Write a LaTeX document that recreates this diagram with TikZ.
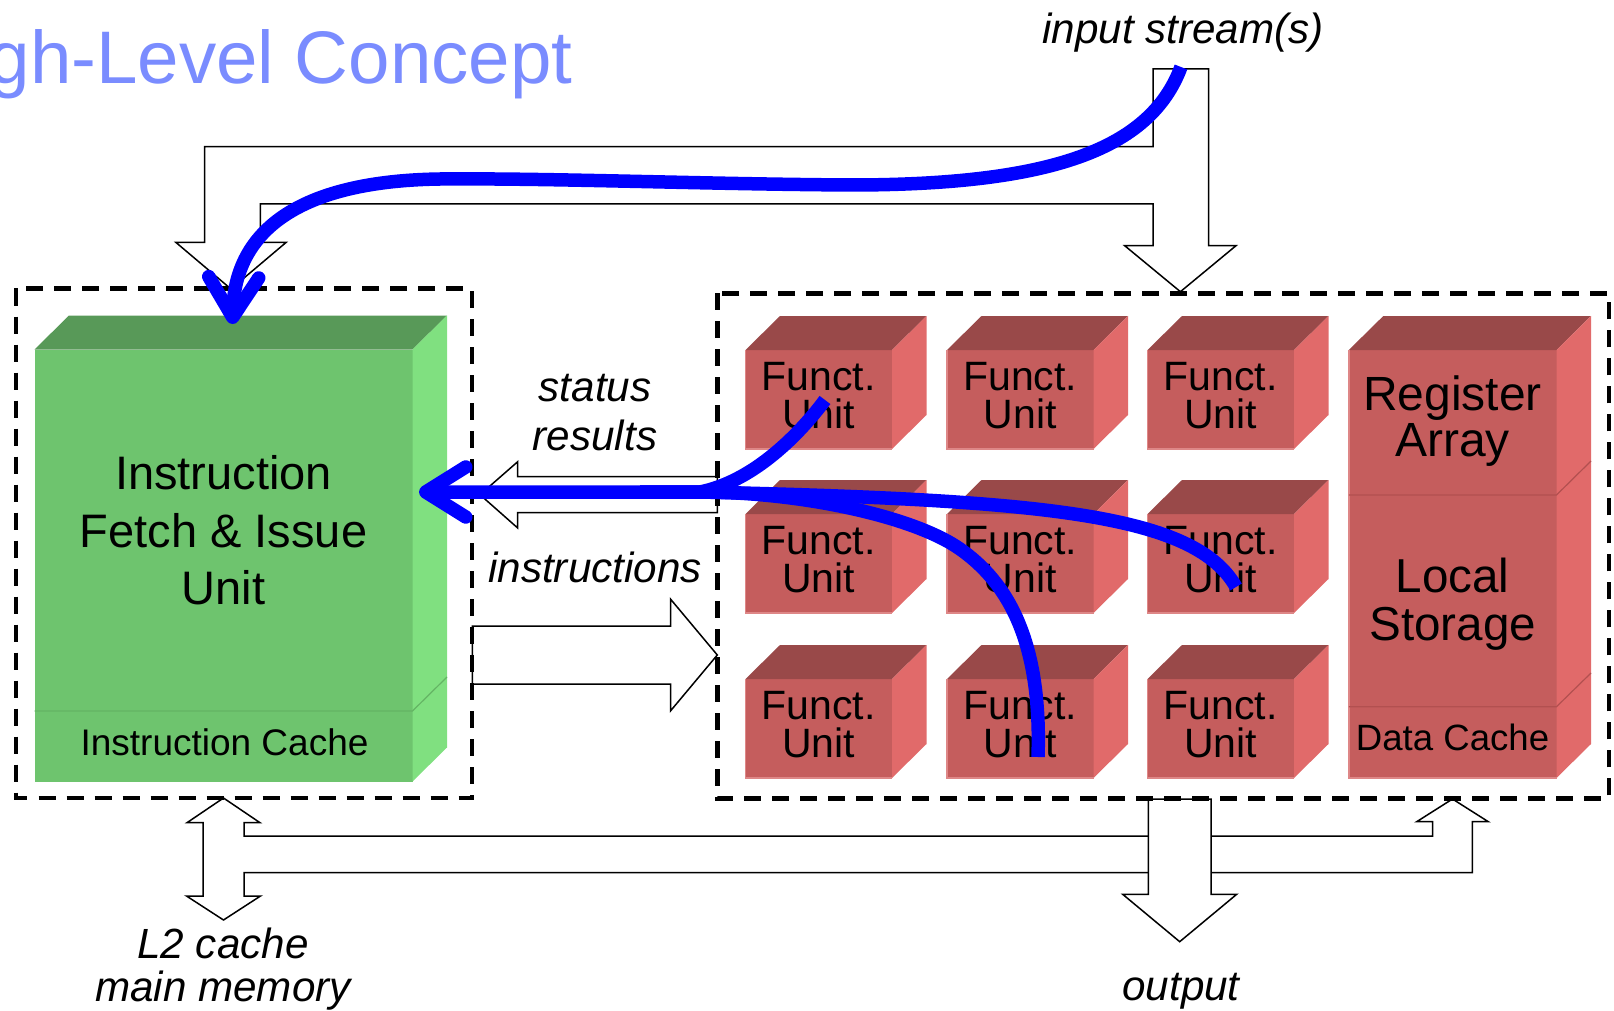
\documentclass[tikz,border=0pt]{standalone}
\usepackage{fontspec}
\setmainfont{Liberation Sans}
\usetikzlibrary{arrows.meta,calc}

\definecolor{titleblue}{RGB}{122,140,255}
\definecolor{gfront}{RGB}{110,196,110}
\definecolor{gtopc}{RGB}{88,153,88}
\definecolor{gsidec}{RGB}{128,224,128}
\definecolor{glinec}{RGB}{100,180,100}
\definecolor{rfront}{RGB}{197,93,93}
\definecolor{rtopc}{RGB}{153,73,73}
\definecolor{rsidec}{RGB}{225,106,106}
\definecolor{rlinec}{RGB}{178,80,80}
\definecolor{redgec}{RGB}{222,135,135}
\definecolor{flow}{RGB}{0,0,255}

\newcommand\fsz[2]{\fontsize{#1}{#2}\selectfont}

% one functional unit: front face node, top and side faces, caption
\newcommand\fucube[3]{%
  \node[fuface] (#1) at (#2,#3) {};
  \fill[rtop] (#1.north west) -- ++(34.5,-34) -- ++(146.5,0) -- (#1.north east) -- cycle;
  \fill[rside] (#1.north east) -- ++(34.5,-34) -- ++(0,99) -- (#1.south east) -- cycle;
  \draw[redge] (#1.north west) -- (#1.south west) -- (#1.south east);
  \node[futext] (#1t) at ($(#1.center)+(0,-3.7)$) {Funct.\\Unit};
}

\begin{document}
\begin{tikzpicture}[x=0.5pt,y=-0.5pt,
  dashbox/.style={draw=black, line width=2.25pt, dash pattern=on 8.5pt off 5.5pt},
  blockarrow/.style={draw=black, fill=white, line width=0.75pt, line join=miter},
  gface/.style={fill=gfront, anchor=north west, inner sep=0pt, outer sep=0pt,
                minimum width=189pt, minimum height=216pt},
  gtop/.style={fill=gtopc},
  gside/.style={fill=gsidec},
  gsep/.style={draw=glinec, line width=0.6pt},
  rface/.style={fill=rfront, anchor=north west, inner sep=0pt, outer sep=0pt},
  fuface/.style={rface, minimum width=73.25pt, minimum height=49.5pt},
  rtop/.style={fill=rtopc},
  rside/.style={fill=rsidec},
  rsep/.style={draw=rlinec, line width=0.6pt},
  redge/.style={draw=redgec, line width=0.75pt},
  futext/.style={align=center, inner sep=0pt, font=\fsz{20.5}{18.85}},
  bigtext/.style={align=center, inner sep=0pt},
  lbl/.style={inner sep=0pt, anchor=base, font=\itshape\fsz{21.1}{24}},
  flowline/.style={draw=flow, line width=6.75pt},
  flowarrow/.style={flowline, -{Straight Barb[length=20pt, width=25pt, round]}},
]
\useasboundingbox (0,0) rectangle (1614,1011);
\clip (0,0) rectangle (1614,1011);

% title
\node[anchor=base east, inner sep=0pt, text=titleblue, font=\fsz{37.25}{44}]
  (title) at (573,83.3) {gh-Level Concept};

% input stream split into two block arrows
\draw[blockarrow] (1153,69) -- (1208.7,69) -- (1208.7,245.7) -- (1236,245.7)
  -- (1180.4,291.7) -- (1124.7,245.7) -- (1153,245.7) -- (1153,204)
  -- (260.3,204) -- (260.3,242.5) -- (286,242.5) -- (231,289) -- (176,242.5)
  -- (204.5,242.5) -- (204.5,146.7) -- (1153,146.7) -- cycle;

% status / results back to the issue unit
\draw[blockarrow] (717.3,476.7) -- (517.7,476.7) -- (517.7,461.7) -- (480,494.7)
  -- (517.7,528) -- (517.7,512.7) -- (717.3,512.7) -- cycle;

% instructions to the functional units
\draw[blockarrow] (472.3,626) -- (670.7,626) -- (670.7,599.3) -- (717.3,655)
  -- (670.7,710.7) -- (670.7,684) -- (472.3,684) -- cycle;

% memory bus
\draw[blockarrow] (223.5,798) -- (260,822.7) -- (244,822.7) -- (244,836)
  -- (1432.7,836) -- (1432.7,821.7) -- (1416.7,821.7) -- (1452.5,799)
  -- (1488.3,821.7) -- (1472.3,821.7) -- (1472.3,872.5) -- (244,872.5)
  -- (244,896) -- (260.5,896) -- (223.5,920) -- (186.5,896) -- (203,896)
  -- (203,822.7) -- (187,822.7) -- cycle;

% output
\draw[blockarrow] (1148.3,799) -- (1211,799) -- (1211,894.3) -- (1236.7,894.3)
  -- (1179.7,941.7) -- (1122.7,894.3) -- (1148.3,894.3) -- cycle;

% enclosures
\draw[dashbox] (16,288.5) rectangle (472,798);
\draw[dashbox] (717.3,293.3) rectangle (1609,798.5);

% instruction fetch & issue unit
\node[gface] (ifu) at (34.5,349.5) {};
\fill[gtop] (ifu.north west) -- ++(34.5,-34) -- ++(378,0) -- (ifu.north east) -- cycle;
\fill[gside] (ifu.north east) -- ++(34.5,-34) -- ++(0,432) -- (ifu.south east) -- cycle;
\draw[gsep] (34.5,711) -- (412.5,711) -- (447,677);
\node[bigtext, font=\fsz{23.5}{28.75}] (ifutxt) at (223.5,530.6)
  {Instruction\\Fetch \& Issue\\Unit};
\node[inner sep=0pt, anchor=base, font=\fsz{18.5}{22}] (icache) at (224.5,755)
  {Instruction Cache};

% functional units
\fucube{fa}{745.5}{350}
\fucube{fb}{947}{350}
\fucube{fc}{1147.5}{350}
\fucube{fd}{745.5}{514}
\fucube{fe}{947}{514}
\fucube{ff}{1147.5}{514}
\fucube{fg}{745.5}{679}
\fucube{fh}{947}{679}
\fucube{fi}{1147.5}{679}

% register array / local storage / data cache
\node[rface, minimum width=103.85pt, minimum height=214pt] (rls) at (1348.8,350) {};
\fill[rtop] (rls.north west) -- ++(34.5,-34) -- ++(207.7,0) -- (rls.north east) -- cycle;
\fill[rside] (rls.north east) -- ++(34.5,-34) -- ++(0,428) -- (rls.south east) -- cycle;
\draw[redge] (rls.north west) -- (rls.south west) -- (rls.south east);
\draw[rsep] (1348.8,495) -- (1556.5,495) -- (1591,461);
\draw[rsep] (1348.8,706.7) -- (1556.5,706.7) -- (1591,673);
\node[bigtext, font=\fsz{24}{23.35}] (regtxt) at (1452.6,421.2) {Register\\Array};
\node[bigtext, font=\fsz{23.8}{24.15}] (loctxt) at (1452.6,603.9) {Local\\Storage};
\node[inner sep=0pt, anchor=base, font=\fsz{18.3}{22}] (dcache) at (1452.6,750) {Data Cache};

% labels
\node[lbl] (instream) at (1183,43.3) {input stream(s)};
\node[lbl] (status) at (595,401.7) {status};
\node[lbl] (results) at (595,450) {results};
\node[lbl] (instrs) at (595,582.5) {instructions};
\node[lbl] (ltwo) at (223,958.3) {L2 cache};
\node[lbl] (mainmem) at (223,1001.5) {main memory};
\node[lbl] (output) at (1181,1000.5) {output};

% data flow
\coordinate (srcin) at (1181,67);
\coordinate (ifutop) at (232.5,324);
\coordinate (merge) at (700,492);
\coordinate (ifuin) at (419,492);
\coordinate (fromfa) at (825,400);
\coordinate (fromfh) at (1038,757);
\coordinate (fromff) at (1236,587);

\draw[flowarrow] (srcin) .. controls (1150,150) and (1050,185) .. (850,185)
  .. controls (700,184) and (550,178) .. (440,179)
  .. controls (300,181) and (235,230) .. (ifutop);
\draw[flowline] (fromfh) .. controls (1042,640) and (1007,582) .. (960,549)
  .. controls (913,516) and (800,492) .. (merge) -- (640,492);
\draw[flowline] (fromff) .. controls (1195,515) and (1050,500) .. (merge) -- (640,492);
\draw[flowarrow] (fromfa) .. controls (795,440) and (750,482) .. (merge) -- (ifuin);
\end{tikzpicture}
\end{document}
